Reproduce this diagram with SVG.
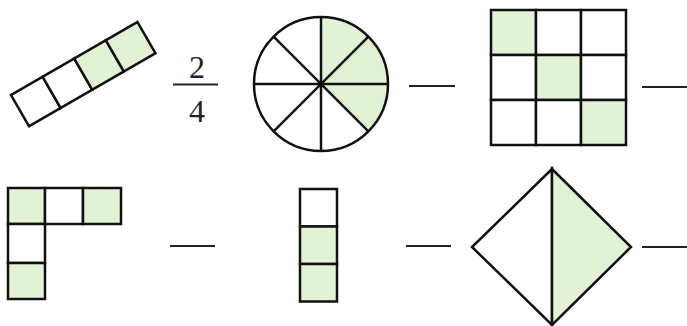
<svg xmlns="http://www.w3.org/2000/svg" width="687" height="326" viewBox="0 0 687 326">
<style>
.c{fill:#fff;stroke:#111;stroke-width:2.5}
.g{fill:#e2f2d4;stroke:#111;stroke-width:2.5}
.l{stroke:#111;stroke-width:2.5;fill:none}
.d{stroke:#222;stroke-width:2;fill:none}
.t{font-family:"Liberation Serif",serif;font-size:32px;fill:#222;text-anchor:middle}
</style>
<rect width="687" height="326" fill="#fff"/>
<g id="strip">
<g transform="translate(11,95) rotate(-30)">
<rect class="c" x="0" y="0" width="36.5" height="36"/>
<rect class="c" x="36.5" y="0" width="36.5" height="36"/>
<rect class="g" x="73" y="0" width="36.5" height="36"/>
<rect class="g" x="109.5" y="0" width="36.5" height="36"/>
</g>
</g>
<g id="fraction">
<text class="t" x="197" y="78">2</text>
<line class="d" x1="173" y1="84.5" x2="218" y2="84.5" stroke-width="1.8"/>
<text class="t" x="197" y="122">4</text>
</g>
<g id="circle">
<circle cx="321" cy="84" r="67" fill="#fff"/>
<path d="M321,84 L321,17 A67,67 0 0 1 368.4,131.4 Z" fill="#e2f2d4"/>
<circle class="l" cx="321" cy="84" r="67"/>
<line class="l" x1="321" y1="17" x2="321" y2="151"/>
<line class="l" x1="254" y1="84" x2="388" y2="84"/>
<line class="l" x1="273.6" y1="36.6" x2="368.4" y2="131.4"/>
<line class="l" x1="273.6" y1="131.4" x2="368.4" y2="36.6"/>
<circle cx="321" cy="84" r="3" fill="#111"/>
</g>
<g id="grid">
<rect class="g" x="491" y="10" width="45" height="45"/>
<rect class="c" x="536" y="10" width="45" height="45"/>
<rect class="c" x="581" y="10" width="45" height="45"/>
<rect class="c" x="491" y="55" width="45" height="45"/>
<rect class="g" x="536" y="55" width="45" height="45"/>
<rect class="c" x="581" y="55" width="45" height="45"/>
<rect class="c" x="491" y="100" width="45" height="45"/>
<rect class="c" x="536" y="100" width="45" height="45"/>
<rect class="g" x="581" y="100" width="45" height="45"/>
</g>
<g id="lshape">
<rect class="g" x="8" y="188" width="37" height="36"/>
<rect class="c" x="45" y="188" width="38" height="36"/>
<rect class="g" x="83" y="188" width="38" height="36"/>
<rect class="c" x="8" y="224" width="37" height="39"/>
<rect class="g" x="8" y="263" width="37" height="36"/>
</g>
<g id="column">
<rect class="c" x="300" y="189" width="37" height="37.5"/>
<rect class="g" x="300" y="226.5" width="37" height="37.5"/>
<rect class="g" x="300" y="264" width="37" height="37.5"/>
</g>
<g id="diamond">
<polygon class="c" points="552,169 472,247 552,325"/>
<polygon class="g" points="552,169 631,247 552,325"/>
</g>
<g id="blanks">
<line class="d" x1="409" y1="86" x2="455" y2="86"/>
<line class="d" x1="642" y1="87" x2="687" y2="87"/>
<line class="d" x1="170" y1="246" x2="215" y2="246"/>
<line class="d" x1="406" y1="246" x2="451" y2="246"/>
<line class="d" x1="642" y1="247" x2="687" y2="247"/>
</g>
</svg>
